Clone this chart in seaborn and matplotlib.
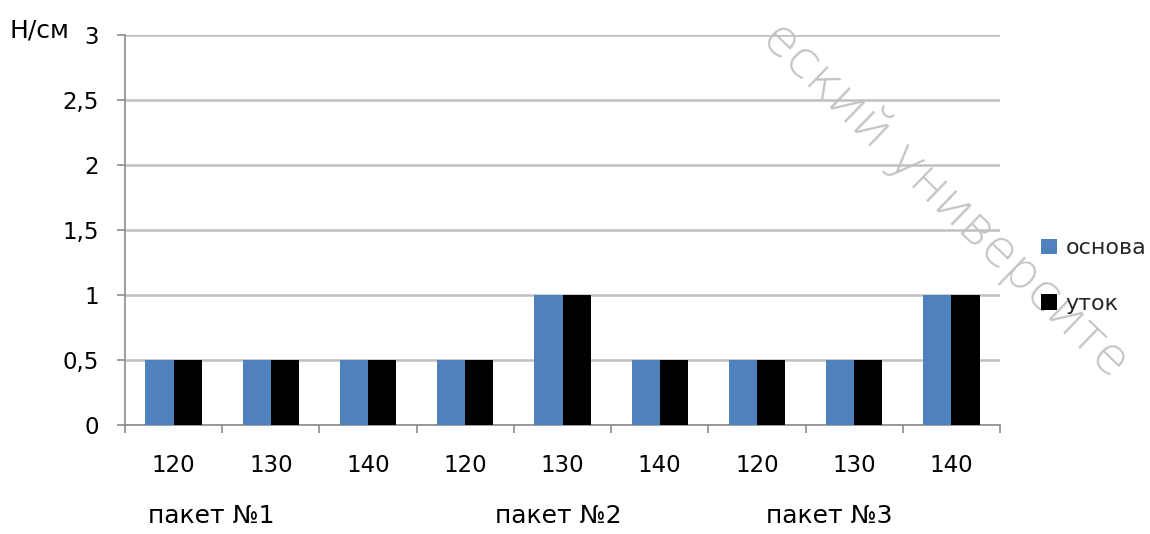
import matplotlib
matplotlib.use("Agg")
import matplotlib.pyplot as plt
import matplotlib.transforms as mtransforms
import seaborn as sns
import pandas as pd

# Data: breaking load (Н/см) for three packages at three temperatures
packages = ["пакет №1", "пакет №2", "пакет №3"]
temperatures = ["120", "130", "140"]
osnova = [0.5, 0.5, 0.5, 0.5, 1.0, 0.5, 0.5, 0.5, 1.0]
utok = [0.5, 0.5, 0.5, 0.5, 1.0, 0.5, 0.5, 0.5, 1.0]
series_names = ["основа", "уток"]
series_colors = ["#4F81BD", "#000000"]
y_ticks = [0, 0.5, 1, 1.5, 2, 2.5, 3]
y_tick_labels = ["0", "0,5", "1", "1,5", "2", "2,5", "3"]

# one category per (package, temperature) pair
cat_keys = [f"{p} {t}" for p in packages for t in temperatures]
cat_labels = [t for p in packages for t in temperatures]

rows = []
for name, vals in zip(series_names, [osnova, utok]):
    for key, v in zip(cat_keys, vals):
        rows.append({"cat": key, "series": name, "value": v})
df = pd.DataFrame(rows)

sns.set_theme(style="white")
plt.rcParams["font.family"] = ["DejaVu Sans"]

fig = plt.figure(figsize=(11.5, 5.34), dpi=100)
ax = fig.add_axes([125 / 1150, 109 / 534, 875 / 1150, 390 / 534])
ax.set_facecolor("none")

# faint watermark behind the plot
fig.text(945 / 1150, 1 - 200 / 534, "еский университе", rotation=-44,
         rotation_mode="anchor", ha="center", va="center",
         fontsize=37, color="#c4c4c4", fontweight="light", zorder=-1)

sns.barplot(data=df, x="cat", y="value", hue="series", order=cat_keys,
            hue_order=series_names, palette=series_colors, width=0.58,
            saturation=1, ax=ax, zorder=3, errorbar=None, linewidth=0,
            edgecolor="none")

ax.set_xlim(-0.5, len(cat_keys) - 0.5)
ax.set_ylim(0, 3)
ax.set_yticks(y_ticks)
ax.set_yticklabels(y_tick_labels)
ax.set_xticks(range(len(cat_keys)))
ax.set_xticklabels(cat_labels)
ax.set_xlabel("")
ax.set_ylabel("")

# horizontal gridlines
ax.yaxis.grid(True, color="#c0c0c0", linewidth=1.8, zorder=0)
ax.set_axisbelow(True)

for s in ["top", "right"]:
    ax.spines[s].set_visible(False)
for s in ["left", "bottom"]:
    ax.spines[s].set_color("#8c8c8c")
    ax.spines[s].set_linewidth(1.2)

# x ticks on category boundaries, labels centred on categories
ax.set_xticks([i - 0.5 for i in range(len(cat_keys) + 1)], minor=True)
ax.tick_params(axis="x", which="major", length=0, pad=21, labelsize=16.5,
               labelcolor="#000000")
ax.tick_params(axis="x", which="minor", length=6, width=1.2, color="#8c8c8c",
               direction="out", bottom=True)
ax.tick_params(axis="y", which="major", length=6, width=1.2, color="#8c8c8c",
               direction="out", left=True, pad=13, labelsize=16.5,
               labelcolor="#000000")

# package captions under the temperature labels
caption_x = [-0.26, 3.31, 6.09]
caption_tr = mtransforms.blended_transform_factory(ax.transData, fig.transFigure)
for x, name in zip(caption_x, packages):
    ax.text(x, 11 / 534, name, transform=caption_tr,
            ha="left", va="baseline", fontsize=18, color="#000000")

fig.text(10 / 1150, 1 - 37 / 534, "Н/см", ha="left", va="baseline",
         fontsize=18, color="#000000")

sns.move_legend(ax, loc="center left",
                bbox_to_anchor=(1030 / 1150, 1 - 276 / 534),
                bbox_transform=fig.transFigure, frameon=False, title=None,
                fontsize=16, handlelength=0.7, handleheight=0.7,
                handletextpad=0.4, labelspacing=1.6, borderpad=0)

fig.savefig("out.png", dpi=100)
